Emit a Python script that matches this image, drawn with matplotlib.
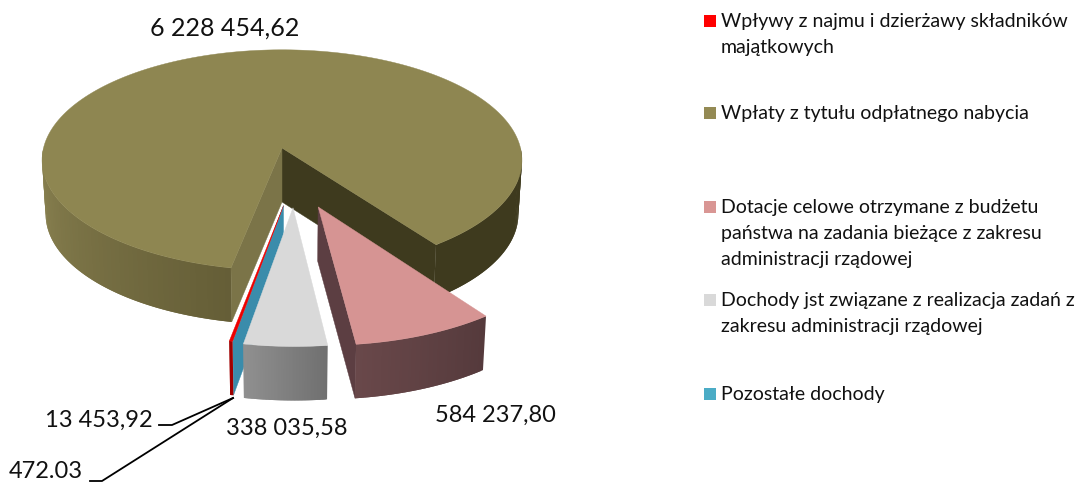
import numpy as np
import matplotlib
matplotlib.use('Agg')
from matplotlib import pyplot as plt
from matplotlib.colors import to_rgb

plt.rcParams['font.family'] = ['Lato', 'DejaVu Sans']

# data, in the order of the legend (clockwise)
categories = ['Wpływy z najmu i dzierżawy składników\nmajątkowych',
              'Wpłaty z tytułu odpłatnego nabycia',
              'Dotacje celowe otrzymane z budżetu\npaństwa na zadania bieżące z zakresu\nadministracji rządowej',
              'Dochody jst związane z realizacja zadań z\nzakresu administracji rządowej',
              'Pozostałe dochody']
values = [13453.92, 6228454.62, 584237.80, 338035.58, 472.03]
value_labels = ['13 453,92', '6 228 454,62', '584 237,80', '338 035,58', '472.03']
legend_colors = ['#FF0000', '#948A54', '#D99694', '#D9D9D9', '#4BACC6']

# styles and layout
top_colors = ['#EE0000', '#8E8651', '#D69493', '#D9D9D9', '#4BACC6']
legend_y = [27, 119, 213, 306, 400]
label_pos = [(153, 427), (225, 36), (495, 422), (287, 435), (83, 478)]
label_size = [17, 18, 17, 17, 17]
label_ha = ['right', 'center', 'center', 'center', 'right']
explode = [(0.006, 0.50), (0, 0), (0.143, 0.51), (0.0435, 0.517), (0.006, 0.50)]

CX, CY = 282, 148
A, B, K = 238.5, 109, 0.11
DEPTH = 54


def project(u, v, lower=False):
    # point of the pie plane (v towards the viewer) to pixels
    u, v = np.asarray(u, float), np.asarray(v, float)
    s = 1 - K * v
    x = A * u / s
    y = B * v / s
    if lower:
        return CX + x * 0.985, CY + y + DEPTH
    return CX + x, CY + y


def rim_points(off, th, lower=False):
    th = np.radians(th)
    return project(off[0] + np.sin(th), off[1] - np.cos(th), lower)


def draw_top(off, t1, t2, color, z):
    th = np.linspace(t1, t2, 200)
    x, y = rim_points(off, th)
    x0, y0 = project(off[0], off[1])
    ax.fill(np.r_[x0, x], np.r_[y0, y], color=color, lw=0.3, zorder=z)


def draw_wall(off, t, color, z):
    x1, y1 = rim_points(off, t)
    x2, y2 = rim_points(off, t, True)
    x0, y0 = project(off[0], off[1])
    x3, y3 = project(off[0], off[1], True)
    ax.fill([x0, x1, x2, x3], [y0, y1, y2, y3], color=color, lw=0.3, zorder=z)


def draw_rim(off, t1, t2, c1, c2, z, n=60):
    # strips overlap the next one, the later strip covers the seam
    ts = np.linspace(t1, t2, n + 1)
    c1, c2 = np.array(to_rgb(c1)), np.array(to_rgb(c2))
    for i in range(n):
        t = np.linspace(ts[i], ts[min(i + 2, n)], 6)
        xa, ya = rim_points(off, t)
        xb, yb = rim_points(off, t, True)
        c = c1 + (c2 - c1) * i / max(n - 1, 1)
        ax.fill(np.r_[xa, xb[::-1]], np.r_[ya, yb[::-1]], color=c, lw=0, zorder=z)


fig = plt.figure(figsize=(10.85, 4.83), dpi=100)
ax = fig.add_axes([0, 0, 1, 1])
ax.set_xlim(0, 1085)
ax.set_ylim(483, 0)
ax.axis('off')

# slice angles, clockwise from north, from the values
sweep = [360 * v / sum(values) for v in values]
start_olive = 191.0
a_red = (start_olive - sweep[0], start_olive)
a_olive = (start_olive, start_olive + sweep[1])
a_pink = (a_olive[1] - 360, a_olive[1] - 360 + sweep[2])
a_grey = (a_pink[1], a_pink[1] + sweep[3])
a_blue = (a_grey[1], a_grey[1] + sweep[4])

# main slice
off = explode[1]
draw_rim(off, a_olive[1] - 360, 90, '#3E3A1E', '#3E3A1E', 1)
draw_rim(off, 270, a_olive[0], '#8C8452', '#655E37', 1)
draw_wall(off, a_olive[1], '#3E3A1E', 2)
draw_wall(off, a_olive[0], '#7B7448', 2)
draw_top(off, a_olive[0], a_olive[1], top_colors[1], 3)

# blue and red slivers
off = explode[4]
draw_wall(off, a_blue[0], '#3A8CAB', 4)
draw_top(off, a_blue[0], a_blue[1], top_colors[4], 5)
off = explode[0]
draw_rim(off, a_red[0], a_red[1], '#A00000', '#A00000', 4, n=3)
draw_top(off, a_red[0], a_red[1], top_colors[0], 5)

# grey
off = explode[3]
draw_rim(off, a_grey[0], a_grey[1], '#707070', '#909090', 6)
draw_top(off, a_grey[0], a_grey[1], top_colors[3], 7)

# pink
off = explode[2]
draw_wall(off, a_pink[1], '#5C3E42', 6)
draw_rim(off, a_pink[0], a_pink[1], '#553A3C', '#69484A', 7)
draw_top(off, a_pink[0], a_pink[1], top_colors[2], 8)

# value labels
for txt, (x, y), ha, size in zip(value_labels, label_pos, label_ha, label_size):
    ax.text(x, y, txt, fontsize=size, ha=ha, va='baseline', color='#111111', zorder=10)

# leader lines
ax.plot([159, 172, 233], [425, 425, 398], color='black', lw=1.3, zorder=9)
ax.plot([90, 102, 233], [481, 481, 398], color='black', lw=1.3, zorder=9)

# legend
for name, col, y in zip(categories, legend_colors, legend_y):
    ax.fill([704, 716, 716, 704], [y, y, y - 12, y - 12], color=col, lw=0, zorder=10)
    for i, line in enumerate(name.split('\n')):
        ax.text(721, y + i * 26, line, fontsize=14, ha='left', va='baseline', color='#111111')

fig.savefig('out.png', dpi=100)
